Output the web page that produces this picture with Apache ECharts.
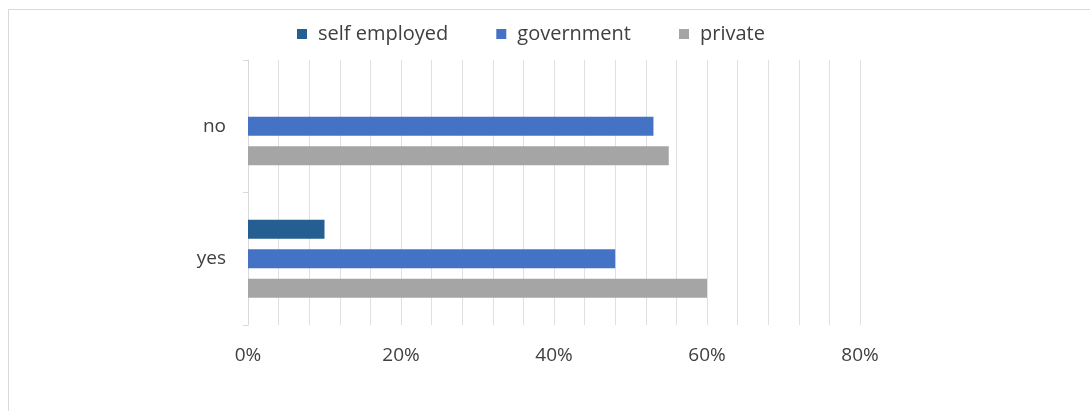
<!DOCTYPE html>
<html>
<head>
<meta charset="utf-8">
<script src="https://cdn.jsdelivr.net/npm/echarts@6/dist/echarts.min.js"></script>
<style>html,body{margin:0;padding:0;background:#fff}#c{width:1090px;height:411px}</style>
</head>
<body>
<div id="c"></div>
<script>
const categories = ['no', 'yes'];
const seriesNames = ['self employed', 'government', 'private'];
const selfEmployed = [null, 10];
const government = [53, 48];
const privateSector = [55, 60];
const xTicks = [0, 20, 40, 60, 80];

const colors = ['#255E91', '#4472C4', '#A5A5A5'];
const font = 'Open Sans';
const textColor = '#404040';

const chart = echarts.init(document.getElementById('c'), null, {renderer: 'canvas'});
const values = [selfEmployed, government, privateSector];
chart.setOption({
  animation: false,
  backgroundColor: '#fff',
  color: colors,
  graphic: [{
    type: 'rect', left: 6, top: 7, silent: true,
    shape: {width: 1200, height: 600},
    style: {fill: 'none', stroke: '#d9d9d9', lineWidth: 1}
  }],
  legend: {
    top: 19, left: 292,
    itemWidth: 10, itemHeight: 10, itemGap: 48,
    icon: 'rect',
    textStyle: {fontFamily: font, fontSize: 20, color: textColor, padding: [0, 0, 0, 6]},
    data: seriesNames
  },
  grid: {left: 248, right: 230, top: 60, bottom: 86, containLabel: false},
  xAxis: {
    type: 'value', min: xTicks[0], max: xTicks[xTicks.length - 1], interval: 20,
    axisLine: {show: false}, axisTick: {show: false},
    axisLabel: {formatter: v => v + '%', fontFamily: font, fontSize: 19, color: textColor, margin: 21},
    splitLine: {show: true, lineStyle: {color: '#e0e0e0', width: 1}},
    minorTick: {show: false, splitNumber: 5},
    minorSplitLine: {show: true, lineStyle: {color: '#e0e0e0', width: 1}}
  },
  yAxis: {
    type: 'category', data: categories, inverse: true,
    axisLine: {show: true, lineStyle: {color: '#d9d9d9'}},
    axisTick: {show: true, length: 5, lineStyle: {color: '#d9d9d9'}},
    axisLabel: {fontFamily: font, fontSize: 19, color: textColor, margin: 22}
  },
  series: seriesNames.map((n, i) => ({
    name: n, type: 'bar', data: values[i],
    barWidth: 19, barGap: '55%'
  }))
});
</script>
</body>
</html>
